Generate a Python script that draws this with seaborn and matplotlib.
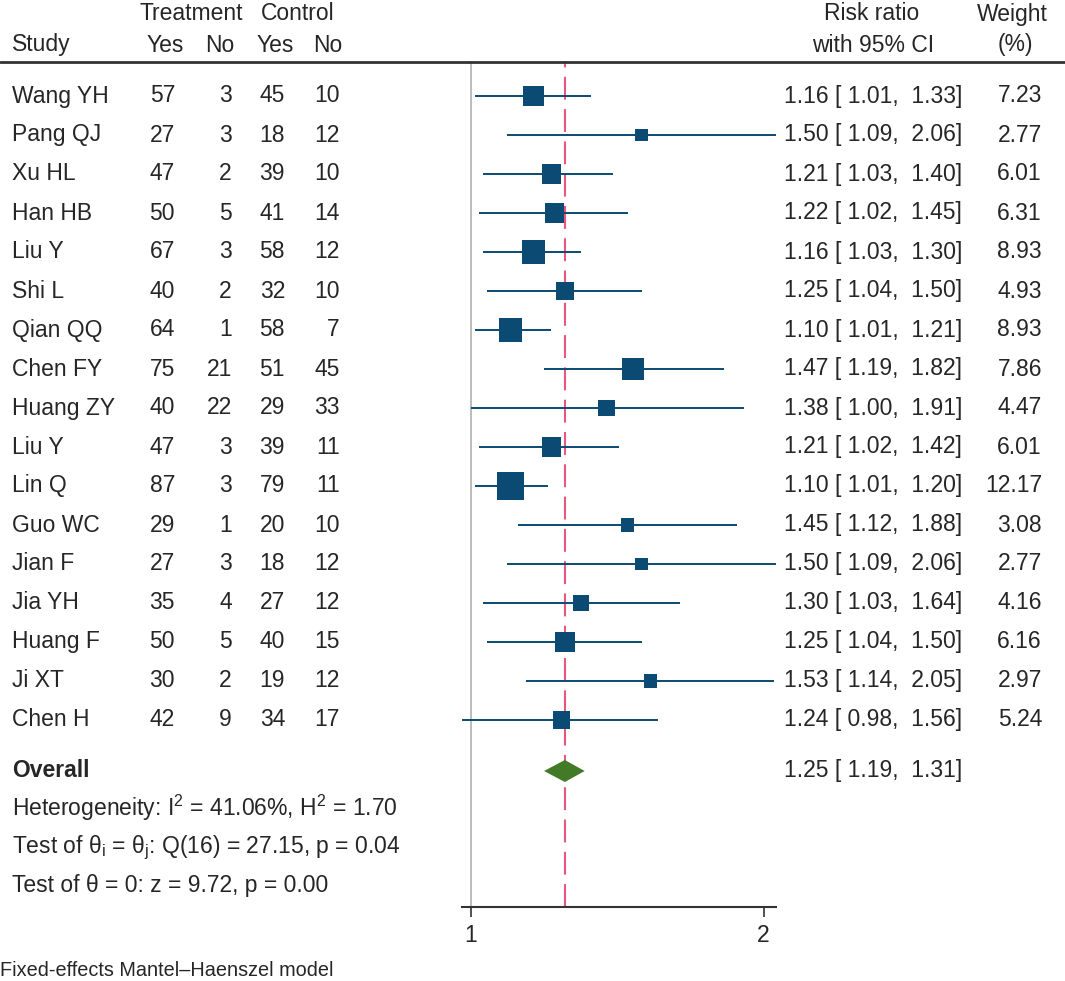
import matplotlib
matplotlib.use("Agg")
import matplotlib.pyplot as plt
import matplotlib.transforms as mtransforms
import seaborn as sns
import pandas as pd
import numpy as np

# study level data
studies = ["Wang YH", "Pang QJ", "Xu HL", "Han HB", "Liu Y", "Shi L", "Qian QQ",
           "Chen FY", "Huang ZY", "Liu Y", "Lin Q", "Guo WC", "Jian F", "Jia YH",
           "Huang F", "Ji XT", "Chen H"]
treat_yes = [57, 27, 47, 50, 67, 40, 64, 75, 40, 47, 87, 29, 27, 35, 50, 30, 42]
treat_no = [3, 3, 2, 5, 3, 2, 1, 21, 22, 3, 3, 1, 3, 4, 5, 2, 9]
ctrl_yes = [45, 18, 39, 41, 58, 32, 58, 51, 29, 39, 79, 20, 18, 27, 40, 19, 34]
ctrl_no = [10, 12, 10, 14, 12, 10, 7, 45, 33, 11, 11, 10, 12, 12, 15, 12, 17]
rr = [1.16, 1.50, 1.21, 1.22, 1.16, 1.25, 1.10, 1.47, 1.38, 1.21, 1.10, 1.45,
      1.50, 1.30, 1.25, 1.53, 1.24]
ci_lo = [1.01, 1.09, 1.03, 1.02, 1.03, 1.04, 1.01, 1.19, 1.00, 1.02, 1.01, 1.12,
         1.09, 1.03, 1.04, 1.14, 0.98]
ci_hi = [1.33, 2.06, 1.40, 1.45, 1.30, 1.50, 1.21, 1.82, 1.91, 1.42, 1.20, 1.88,
         2.06, 1.64, 1.50, 2.05, 1.56]
weight = [7.23, 2.77, 6.01, 6.31, 8.93, 4.93, 8.93, 7.86, 4.47, 6.01, 12.17, 3.08,
          2.77, 4.16, 6.16, 2.97, 5.24]

overall_rr = 1.25
overall_lo = 1.19
overall_hi = 1.31
x_ticks = [1, 2]

df = pd.DataFrame({"study": studies, "rr": rr, "lo": ci_lo, "hi": ci_hi, "w": weight})
df["row"] = np.arange(len(df))

W, H = 1065, 981
box_col = "#0b4a72"
dia_col = "#437a27"
ref_col = "#e8577f"
fs = 16.5

sns.set_theme(style="white")
plt.rcParams["font.family"] = ["Liberation Sans", "DejaVu Sans"]
plt.rcParams["mathtext.fontset"] = "custom"
plt.rcParams["mathtext.rm"] = "Liberation Sans"

fig = plt.figure(figsize=(W / 100, H / 100), dpi=100)
ax = fig.add_axes([462 / W, 1 - 907 / H, (776 - 462) / W, (907 - 62) / H])

# row y -> pixel: 96 + 39*row
def py(p):
    return (p - 96) / 39.0

ax.set_xscale("log")
ax.set_xlim(0.98, 2.06)
ax.set_ylim(py(907), py(62))

# null line and overall line
ax.axvline(1, color="#b0b0b0", lw=1.2, zorder=0)
ax.axvline(overall_rr, color=ref_col, lw=1.5, dashes=(11, 4.5), zorder=1)

# confidence intervals
ax.hlines(df["row"], df["lo"], df["hi"], color=box_col, lw=1.4, zorder=2)

# weight boxes (area proportional to weight)
sizes = {w: 31.5 * w for w in df["w"].unique()}
sns.scatterplot(data=df, x="rr", y="row", size="w", sizes=sizes, marker="s",
                color=box_col, edgecolor=box_col, linewidth=0, legend=False,
                ax=ax, zorder=3)

# overall diamond
oy = py(771)
dh = 11 / 39.0
ax.fill([overall_lo, overall_rr, overall_hi, overall_rr],
        [oy, oy - dh, oy, oy + dh], color=dia_col, zorder=3, lw=0)

for s in ["top", "right", "left"]:
    ax.spines[s].set_visible(False)
ax.spines["bottom"].set_color("#333333")
ax.spines["bottom"].set_linewidth(1.5)
ax.set_xticks(x_ticks)
ax.set_xticklabels([str(t) for t in x_ticks], fontsize=fs)
ax.xaxis.set_minor_locator(matplotlib.ticker.NullLocator())
ax.tick_params(axis="x", bottom=True, length=7, width=1.2, color="#333333", pad=5)
ax.set_yticks([])
ax.set_xlabel("")
ax.set_ylabel("")

# text columns
tr = mtransforms.blended_transform_factory(fig.transFigure, ax.transData)

def put(xpx, row, s, ha="left", **kw):
    fig.text(xpx / W, row, s, ha=ha, va="center", fontsize=fs, transform=tr,
             clip_on=False, **kw)

# headers
put(191, py(14), "Treatment", ha="center")
put(298, py(14), "Control", ha="center")
put(12, py(45), "Study")
put(165, py(45), "Yes", ha="center")
put(220, py(45), "No", ha="center")
put(275, py(45), "Yes", ha="center")
put(328, py(45), "No", ha="center")
put(872, py(14), "Risk ratio", ha="center")
put(873, py(45), "with 95% CI", ha="center")
put(1012, py(14), "Weight", ha="center")
put(1015, py(45), "(%)", ha="center")

line = plt.Line2D([0, 1], [1 - 62 / H, 1 - 62 / H], transform=fig.transFigure,
                  color="#333333", lw=2)
fig.add_artist(line)

for i in range(len(studies)):
    put(12, i, studies[i])
    put(175, i, str(treat_yes[i]), ha="right")
    put(232, i, str(treat_no[i]), ha="right")
    put(285, i, str(ctrl_yes[i]), ha="right")
    put(340, i, str(ctrl_no[i]), ha="right")
    put(962, i, f"{rr[i]:.2f} [ {ci_lo[i]:.2f},  {ci_hi[i]:.2f}]", ha="right")
    put(1042, i, f"{weight[i]:.2f}", ha="right")

put(12, oy, "Overall", fontweight="bold")
put(962, oy, f"{overall_rr:.2f} [ {overall_lo:.2f},  {overall_hi:.2f}]", ha="right")
put(12, py(808), r"Heterogeneity: I$^\mathregular{2}$ = 41.06%, H$^\mathregular{2}$ = 1.70")
put(12, py(848), r"Test of θ$_\mathregular{i}$ = θ$_\mathregular{j}$: Q(16) = 27.15, p = 0.04")
put(12, py(886), "Test of θ = 0: z = 9.72, p = 0.00")

fig.text(0, 1 - 970 / H, "Fixed-effects Mantel\u2013Haenszel model", ha="left",
         va="center", fontsize=14.3)

fig.savefig("out.png", dpi=100)
